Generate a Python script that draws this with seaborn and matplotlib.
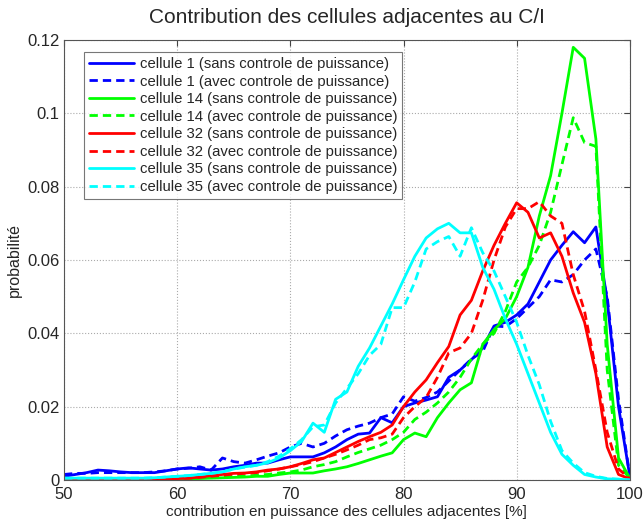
import numpy as np
import pandas as pd
import matplotlib
matplotlib.use("Agg")
import matplotlib.pyplot as plt
import seaborn as sns

# contribution des cellules adjacentes [%], pas de 1 %
contribution = list(range(50, 101))

cell1_sans = [0.001, 0.0015, 0.002, 0.0027, 0.0025, 0.0022, 0.002, 0.002, 0.002, 0.0025,
              0.003, 0.0033, 0.003, 0.0027, 0.003, 0.0036, 0.004, 0.0046, 0.0046, 0.0055,
              0.0063, 0.0063, 0.0063, 0.0074, 0.009, 0.011, 0.0125, 0.0128, 0.017, 0.0156,
              0.020, 0.021, 0.0218, 0.0227, 0.028, 0.030, 0.0328, 0.036, 0.042, 0.043,
              0.045, 0.048, 0.054, 0.060, 0.064, 0.0677, 0.0647, 0.069, 0.049, 0.020, 0.001]
cell1_avec = [0.0015, 0.0018, 0.0018, 0.002, 0.002, 0.002, 0.002, 0.002, 0.0022, 0.0025,
              0.003, 0.0032, 0.0036, 0.0027, 0.006, 0.005, 0.0046, 0.0055, 0.0065, 0.0074,
              0.009, 0.010, 0.009, 0.010, 0.012, 0.0137, 0.0147, 0.0155, 0.017, 0.018,
              0.0227, 0.0215, 0.0225, 0.024, 0.027, 0.030, 0.033, 0.035, 0.042, 0.0418,
              0.044, 0.047, 0.050, 0.0546, 0.054, 0.056, 0.060, 0.063, 0.050, 0.022, 0.001]
cell14_sans = [0.0002, 0.0002, 0.0002, 0.0002, 0.0002, 0.0002, 0.0002, 0.0002, 0.0002, 0.0002,
               0.0002, 0.0003, 0.0004, 0.0005, 0.0006, 0.0007, 0.0008, 0.001, 0.001, 0.0015,
               0.0019, 0.0019, 0.0019, 0.0025, 0.003, 0.0036, 0.0045, 0.0055, 0.0065, 0.0074,
               0.011, 0.0128, 0.0118, 0.017, 0.021, 0.0246, 0.0265, 0.037, 0.041, 0.044,
               0.050, 0.058, 0.072, 0.083, 0.100, 0.118, 0.115, 0.093, 0.037, 0.006, 0.0005]
cell14_avec = [0.0003, 0.0003, 0.0003, 0.0003, 0.0003, 0.0003, 0.0003, 0.0003, 0.0003, 0.0003,
               0.0003, 0.0005, 0.0006, 0.0007, 0.0008, 0.001, 0.001, 0.0013, 0.0015, 0.0019,
               0.0022, 0.0027, 0.0036, 0.0042, 0.005, 0.0063, 0.0075, 0.0085, 0.0095, 0.011,
               0.013, 0.0165, 0.0185, 0.021, 0.024, 0.028, 0.033, 0.037, 0.040, 0.046,
               0.054, 0.058, 0.064, 0.073, 0.086, 0.0988, 0.092, 0.091, 0.030, 0.004, 0.0005]
cell32_sans = [0.0003, 0.0003, 0.0003, 0.0003, 0.0003, 0.0003, 0.0003, 0.0003, 0.0003, 0.0003,
               0.0004, 0.0005, 0.0008, 0.0012, 0.0015, 0.0018, 0.0019, 0.0022, 0.0027, 0.003,
               0.0036, 0.0045, 0.0055, 0.006, 0.0075, 0.009, 0.0105, 0.0118, 0.013, 0.015,
               0.020, 0.024, 0.0273, 0.032, 0.0364, 0.045, 0.049, 0.057, 0.064, 0.070,
               0.0756, 0.073, 0.066, 0.0674, 0.061, 0.051, 0.043, 0.029, 0.009, 0.0015, 0.0003]
cell32_avec = [0.0003, 0.0003, 0.0003, 0.0003, 0.0003, 0.0003, 0.0003, 0.0003, 0.0003, 0.0003,
               0.0004, 0.0005, 0.0007, 0.001, 0.0013, 0.0016, 0.0018, 0.002, 0.0025, 0.003,
               0.0036, 0.0042, 0.005, 0.006, 0.007, 0.0082, 0.0095, 0.011, 0.0115, 0.0125,
               0.017, 0.020, 0.0225, 0.028, 0.0347, 0.036, 0.040, 0.049, 0.060, 0.069,
               0.074, 0.074, 0.0759, 0.072, 0.070, 0.056, 0.046, 0.030, 0.013, 0.003, 0.0003]
cell35_sans = [0.0005, 0.0005, 0.0005, 0.0005, 0.0005, 0.0005, 0.0005, 0.0005, 0.0006, 0.0008,
               0.001, 0.0012, 0.0015, 0.0018, 0.0022, 0.003, 0.0036, 0.004, 0.0047, 0.006,
               0.008, 0.0105, 0.0155, 0.013, 0.022, 0.024, 0.031, 0.036, 0.042, 0.048,
               0.0546, 0.061, 0.066, 0.0685, 0.070, 0.0674, 0.0674, 0.058, 0.052, 0.044,
               0.037, 0.029, 0.021, 0.013, 0.007, 0.004, 0.0015, 0.0008, 0.0003, 0.0002, 0.0]
cell35_avec = [0.0005, 0.0005, 0.0005, 0.0005, 0.0005, 0.0005, 0.0005, 0.0005, 0.0006, 0.0008,
               0.001, 0.0012, 0.0015, 0.0018, 0.0022, 0.003, 0.0035, 0.004, 0.005, 0.0065,
               0.0085, 0.011, 0.0145, 0.015, 0.021, 0.025, 0.029, 0.034, 0.037, 0.047,
               0.047, 0.054, 0.063, 0.065, 0.0664, 0.061, 0.0688, 0.062, 0.057, 0.050,
               0.043, 0.034, 0.026, 0.016, 0.008, 0.0046, 0.002, 0.001, 0.0004, 0.0002, 0.0]

series = [
    ("cellule 1 (sans controle de puissance)", cell1_sans, "#0000ff", "-"),
    ("cellule 1 (avec controle de puissance)", cell1_avec, "#0000ff", "--"),
    ("cellule 14 (sans controle de puissance)", cell14_sans, "#00ff00", "-"),
    ("cellule 14 (avec controle de puissance)", cell14_avec, "#00ff00", "--"),
    ("cellule 32 (sans controle de puissance)", cell32_sans, "#ff0000", "-"),
    ("cellule 32 (avec controle de puissance)", cell32_avec, "#ff0000", "--"),
    ("cellule 35 (sans controle de puissance)", cell35_sans, "#00ffff", "-"),
    ("cellule 35 (avec controle de puissance)", cell35_avec, "#00ffff", "--"),
]

sns.set_style("white")
plt.rcParams["font.family"] = ["Liberation Sans", "DejaVu Sans"]

fig = plt.figure(figsize=(6.44, 5.26), dpi=100)
ax = fig.add_axes([0.0994, 0.0875, 0.8786, 0.8365])

for label, values, color, ls in series:
    df = pd.DataFrame({"x": contribution, "p": values})
    line = sns.lineplot(data=df, x="x", y="p", ax=ax, color=color,
                        linewidth=2, label=label).lines[-1]
    if ls == "--":
        line.set_dashes((3, 1.8))

ax.set_xlim(50, 100)
ax.set_ylim(0, 0.12)
ax.set_xticks(range(50, 101, 10))
ax.set_yticks([0, 0.02, 0.04, 0.06, 0.08, 0.1, 0.12])
ax.set_yticklabels(["0", "0.02", "0.04", "0.06", "0.08", "0.1", "0.12"])
ax.grid(True, linestyle=":", color="#aaaaaa", linewidth=0.8)
ax.tick_params(direction="in", top=True, right=True, labelsize=12, length=4,
               color="#444444")
ax.tick_params(axis="x", pad=5)
ax.tick_params(axis="y", pad=3)
for sp in ax.spines.values():
    sp.set_color("#555555")
    sp.set_linewidth(0.8)

ax.set_title("Contribution des cellules adjacentes au C/I", fontsize=15, pad=12)
ax.set_xlabel("contribution en puissance des cellules adjacentes [%]", fontsize=11, labelpad=2)
ax.set_ylabel("probabilité", fontsize=11.5, labelpad=4)

leg = ax.legend(loc="upper left", bbox_to_anchor=(0.03, 0.98), fontsize=10.7,
                frameon=True, fancybox=False, handlelength=3.0, handletextpad=0.4,
                labelspacing=0.24, borderpad=0.35, borderaxespad=0.2)
leg.get_frame().set_edgecolor("#555555")
leg.get_frame().set_linewidth(0.8)

fig.savefig("out.png", dpi=100, facecolor="white")
